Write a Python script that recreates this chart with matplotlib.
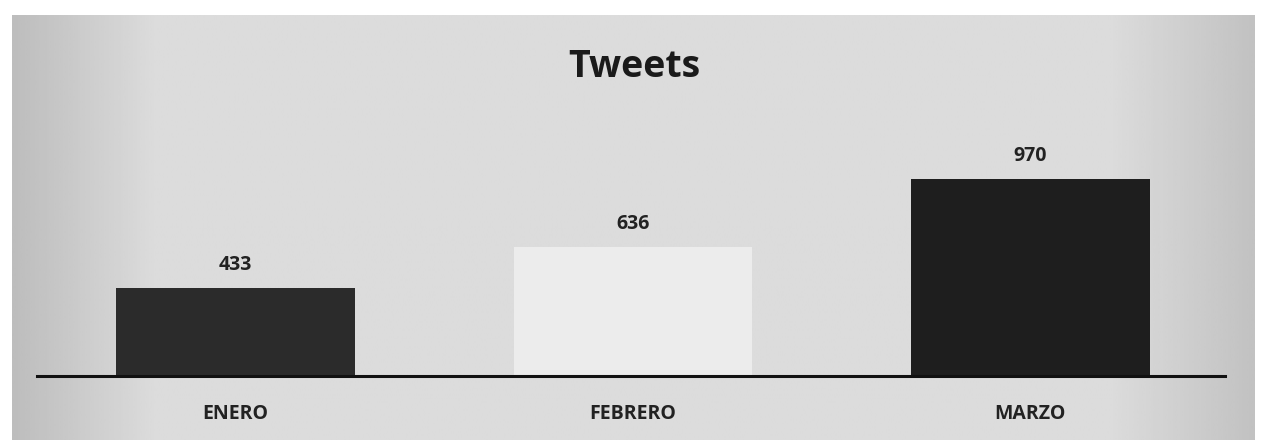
import numpy as np
import matplotlib
matplotlib.use("Agg")
from matplotlib import pyplot as plt

months = ["ENERO", "FEBRERO", "MARZO"]
tweets = [433, 636, 970]
bar_colors = ["#2b2b2b", "#ececec", "#1e1e1e"]

plt.rcParams['font.family'] = ['Open Sans', 'DejaVu Sans']

fig = plt.figure(figsize=(12.68, 4.48), dpi=100)
fig.patch.set_facecolor("white")

# scanned paper background, slightly darker towards the edges
bg = fig.add_axes([12/1268, 8/448, 1243/1268, 425/448])
grad = np.concatenate([np.linspace(0.74, 0.86, 60), np.linspace(0.86, 0.86, 400), np.linspace(0.86, 0.76, 60)])
bg.imshow(grad[np.newaxis, :], aspect="auto", cmap="gray", vmin=0, vmax=1,
          extent=[0, 1, 0, 1], interpolation="bilinear")
bg.axis("off")

ax = fig.add_axes([37/1268, 72/448, 1188/1268, 242/448])
ax.patch.set_alpha(0)
x = np.arange(len(months))
bars = ax.bar(x, tweets, width=0.6, color=bar_colors)
ax.set_xlim(-0.5, 2.49)
ax.set_ylim(0, 1190)

for b, v in zip(bars, tweets):
    ax.annotate(str(v), (b.get_x() + b.get_width() / 2, v), xytext=(0, 9),
                textcoords="offset points", ha="center", va="bottom",
                fontsize=14, fontweight="bold", color="#222222")

ax.set_xticks(x)
ax.set_xticklabels(months, fontsize=14, fontweight="bold", color="#222222")
ax.tick_params(axis="x", length=0, pad=20)
ax.set_yticks([])
for s in ["top", "left", "right"]:
    ax.spines[s].set_visible(False)
ax.spines["bottom"].set_linewidth(2.2)
ax.spines["bottom"].set_color("#111111")

fig.text(0.5, 0.85, "Tweets", ha="center", va="center", fontsize=27,
         fontweight="bold", color="#1a1a1a")

fig.savefig("out.png", dpi=100)
